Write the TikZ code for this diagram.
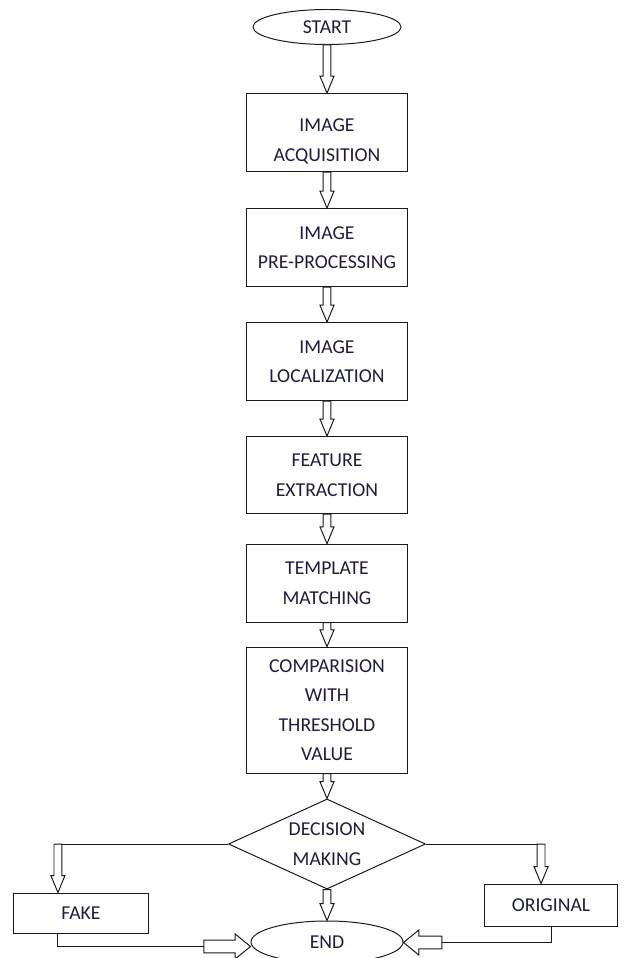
\documentclass[tikz,border=0pt]{standalone}
\usepackage{fontspec}
\setmainfont{Carlito}
\definecolor{fcLine}{RGB}{25,25,25}
\definecolor{fcText}{RGB}{30,30,60}
\usetikzlibrary{
  shapes.geometric,
  positioning,
  calc
}
\tikzset{
  % Genel kutu stilleri
  basenode/.style={
    draw=fcLine,
    line width=0.7pt,
    text=fcText,
    font=\fontsize{14}{21}\selectfont,
    align=center
  },
  stepbox/.style={basenode, rectangle, minimum width=4.025cm, minimum height=1.95cm},
  terminal/.style={basenode, ellipse, inner sep=0pt},
  decision/.style={basenode, diamond, aspect=2.19, inner sep=-6pt,
    minimum width=4.925cm, minimum height=2.25cm},
  % Ok stilleri
  blockarrow/.style n args={3}{
    draw=fcLine, line width=0.7pt, fill=white,
    to path={
      let \p1=(\tikztostart), \p2=(\tikztotarget),
          \n1={atan2(\y2-\y1,\x2-\x1)}, \n2={veclen(\x2-\x1,\y2-\y1)} in
      ($(\p1)+(\n1+90:#1)$) -- ++(\n1:{(\n2)*1pt-#3}) -- ++(\n1+90:{#2-#1})
      -- (\p2) -- ($(\p2)+(\n1+180:#3)+(\n1-90:#2)$) -- ++(\n1+90:{#2-#1})
      -- ($(\p1)+(\n1-90:#1)$) -- cycle
    }
  },
  downarrow/.style={blockarrow={2.8pt}{5pt}{12pt}},
  sidearrow/.style={blockarrow={4.5pt}{9pt}{11pt}},
  line/.style={draw=fcLine, line width=0.7pt},
}

\begin{document}
\begin{tikzpicture}[x=0.025cm, y=-0.025cm]
  \useasboundingbox[fill=white] (0,0) rectangle (625,958);

  % Ana akis
  \node[terminal, minimum width=3.7cm, minimum height=0.875cm] (start) at (327,27) {START};
  \node[stepbox, below=1.2cm of start] (acq) {\rule{0pt}{22pt}IMAGE\\ACQUISITION};
  \node[stepbox, below=0.9cm of acq] (pre) {IMAGE\\PRE-PROCESSING};
  \node[stepbox, below=0.875cm of pre] (loc) {IMAGE\\LOCALIZATION};
  \node[stepbox, below=0.875cm of loc, minimum height=1.925cm] (feat) {FEATURE\\EXTRACTION};
  \node[stepbox, below=0.74cm of feat] (tmpl) {TEMPLATE\\MATCHING};
  \node[stepbox, below=0.6cm of tmpl, minimum height=3.15cm] (comp) {COMPARISION\\WITH\\THRESHOLD\\VALUE};
  \node[decision, below=0.62cm of comp] (dec) {DECISION\\MAKING};

  % Sonuc kutulari
  \node[stepbox, minimum width=3.35cm, minimum height=1cm] (fake) at (81,913) {FAKE};
  \node[stepbox, minimum width=3.3cm, minimum height=1.05cm] (orig) at (551,905) {ORIGINAL};
  \node[terminal, minimum width=3.8cm, minimum height=1.05cm] (end) at (327,942) {END};

  \coordinate (lt) at ([xshift=-4.25cm]dec.west);
  \coordinate (rt) at ([xshift=2.875cm]dec.east);
  \coordinate (lb) at ([yshift=-0.325cm]lt |- fake.south);
  \coordinate (lbe) at ([xshift=3.65cm]lb);
  \coordinate (rb) at ([yshift=-0.4cm]orig.south);
  \coordinate (rbe) at ([xshift=-2.725cm]rb);

  \foreach \a/\b in {start/acq, acq/pre, pre/loc, loc/feat, feat/tmpl, tmpl/comp, comp/dec, dec/end}
    \draw[downarrow] (\a.south) to (\b.north);

  \draw[line] (dec.west) -- (lt);
  \draw[downarrow] (lt) to (lt |- fake.north);
  \draw[line] (dec.east) -- (rt);
  \draw[downarrow] (rt) to (rt |- orig.north);

  \draw[line] (lt |- fake.south) -- (lb) -- (lbe);
  \draw[sidearrow] (lbe) to (lbe -| end.west);
  \draw[line] (orig.south) -- (rb) -- (rbe);
  \draw[sidearrow] (rbe) to (rbe -| end.east);
\end{tikzpicture}
\end{document}
